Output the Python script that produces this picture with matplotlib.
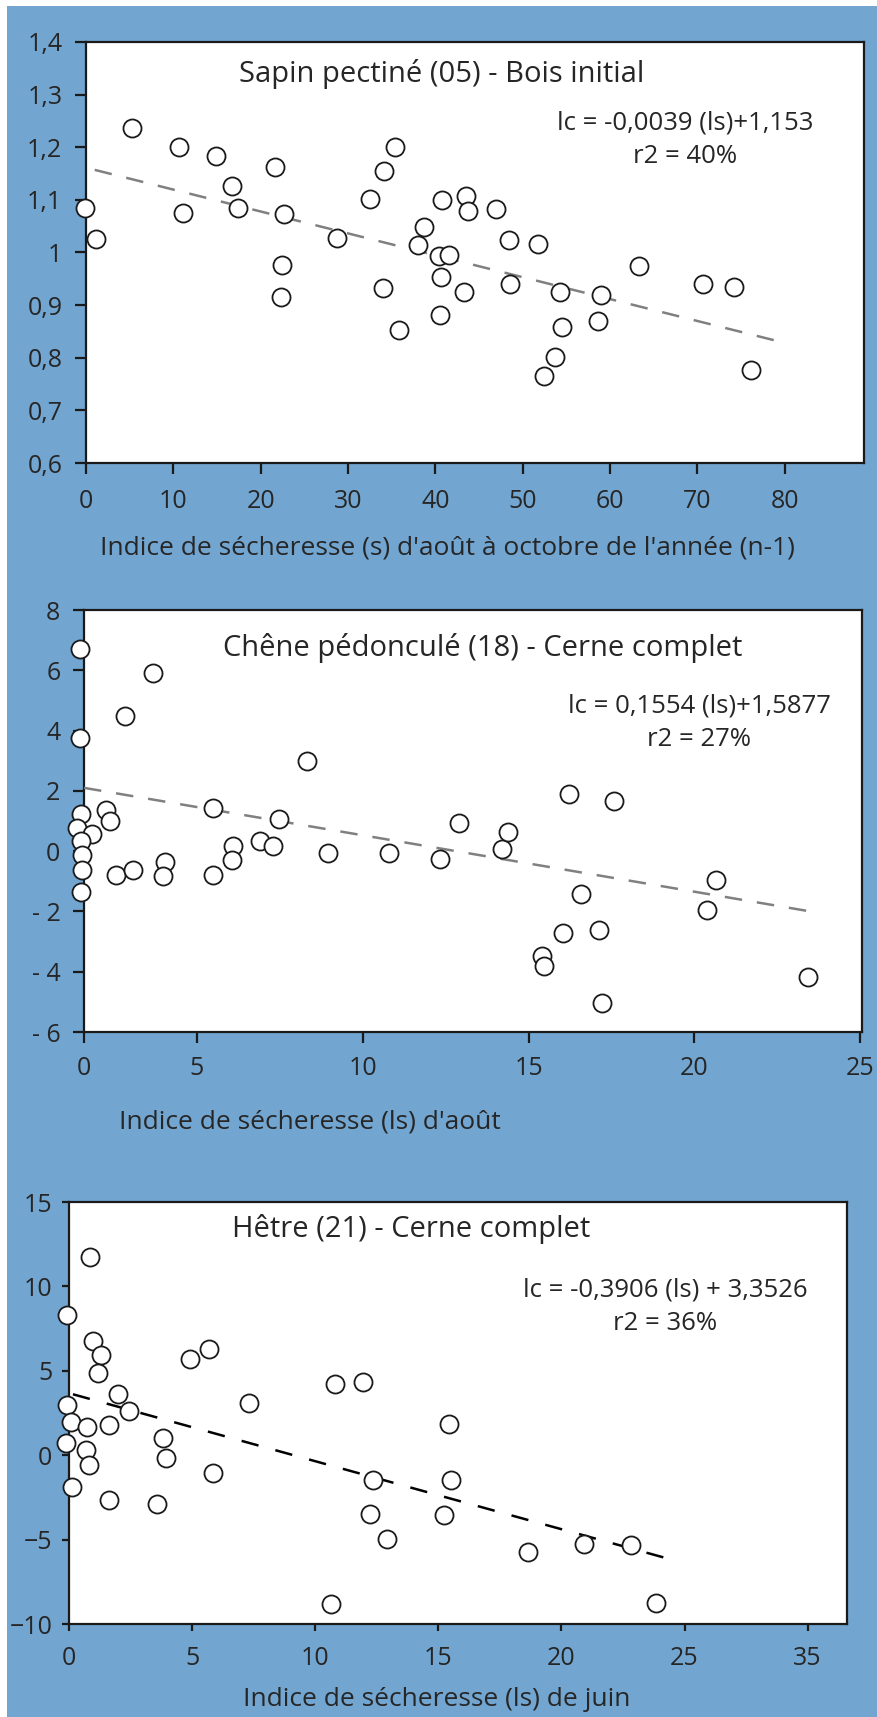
import numpy as np
import matplotlib
matplotlib.use('Agg')
import matplotlib.pyplot as plt
from matplotlib.patches import Rectangle

plt.rcParams['font.family'] = ['Open Sans', 'DejaVu Sans']

BLUE = '#72a5d0'
INK = '#262626'

# --- Sapin pectiné (05) - Bois initial ---
sapin_x = [-0.1, 1.2, 5.25, 10.7, 11.1, 14.9, 16.7, 17.4, 21.65, 22.7, 22.5, 22.3,
           28.8, 32.5, 34.1, 35.4, 34.0, 35.8, 38.0, 38.7, 40.8, 40.4, 41.6, 40.6,
           40.5, 43.5, 43.7, 43.3, 47.0, 48.4, 48.6, 51.8, 52.5, 53.7, 54.3, 54.5,
           58.6, 59.0, 63.3, 70.7, 74.2, 76.2]
sapin_y = [1.084, 1.025, 1.237, 1.200, 1.075, 1.184, 1.126, 1.084, 1.162, 1.073, 0.976, 0.916,
           1.027, 1.102, 1.154, 1.200, 0.933, 0.852, 1.015, 1.049, 1.099, 0.994, 0.996, 0.954,
           0.881, 1.108, 1.079, 0.924, 1.082, 1.024, 0.941, 1.017, 0.765, 0.802, 0.925, 0.858,
           0.870, 0.920, 0.974, 0.940, 0.934, 0.776]
sapin_trend_x = [1.0, 79.6]
sapin_trend_y = [1.157, 0.830]
sapin_xticks = [0, 10, 20, 30, 40, 50, 60, 70, 80]
sapin_yticks = [0.6, 0.7, 0.8, 0.9, 1.0, 1.1, 1.2, 1.3, 1.4]
sapin_yticklabels = ['0,6', '0,7', '0,8', '0,9', '1', '1,1', '1,2', '1,3', '1,4']

# --- Chêne pédonculé (18) - Cerne complet ---
chene_x = [-0.17, -0.17, 3.04, 1.83, 8.32, -0.15, 0.99, 1.16, -0.3, 0.37, -0.15, -0.1,
           -0.1, -0.15, 1.41, 2.18, 3.61, 3.49, 5.49, 5.49, 6.08, 6.06, 6.89, 7.31,
           7.49, 8.94, 10.78, 12.32, 12.91, 14.21, 14.39, 15.40, 15.45, 16.04, 16.21, 16.58,
           17.13, 17.22, 17.58, 20.39, 20.64, 23.42]
chene_y = [6.69, 3.75, 5.91, 4.49, 2.99, 1.23, 1.38, 1.0, 0.78, 0.58, 0.34, -0.12,
           -0.63, -1.35, -0.78, -0.63, -0.35, -0.82, 1.43, -0.79, 0.17, -0.29, 0.35, 0.17,
           1.05, -0.06, -0.06, -0.27, 0.95, 0.08, 0.62, -3.48, -3.82, -2.72, 1.90, -1.42,
           -2.6, -5.03, 1.65, -1.95, -0.95, -4.16]
chene_trend_x = [0.0, 23.6]
chene_trend_y = [2.1, -2.02]
chene_xticks = [0, 5, 10, 15, 20, 25]
chene_yticks = [-6, -4, -2, 0, 2, 4, 6, 8]
chene_yticklabels = ['- 6', '- 4', '- 2', '0', '2', '4', '6', '8']

# --- Hêtre (21) - Cerne complet ---
hetre_x = [0.86, -0.07, 0.97, 1.31, 1.19, 4.91, 5.70, 1.98, 2.43, -0.09, 0.07, 0.72,
           1.62, -0.11, 0.70, 0.83, 0.11, 1.64, 3.58, 3.83, 3.96, 5.83, 7.32, 10.81,
           11.96, 10.65, 12.36, 12.23, 12.91, 15.43, 15.52, 15.23, 18.63, 20.92, 22.84, 23.83]
hetre_y = [11.74, 8.28, 6.79, 5.92, 4.85, 5.67, 6.30, 3.63, 2.59, 2.97, 1.96, 1.67,
           1.79, 0.70, 0.28, -0.61, -1.89, -2.63, -2.92, 1.04, -0.14, -1.05, 3.08, 4.20,
           4.32, -8.84, -1.47, -3.49, -4.95, 1.84, -1.47, -3.53, -5.72, -5.26, -5.32, -8.74]
hetre_trend_x = [0.16, 24.26]
hetre_trend_y = [3.61, -6.1]
hetre_xticks = [0, 5, 10, 15, 20, 25, 30]
hetre_xticklabels = ['0', '5', '10', '15', '20', '25', '35']
hetre_yticks = [-10, -5, 0, 5, 10, 15]

W, H = 878, 1717
fig = plt.figure(figsize=(W / 100, H / 100), dpi=100, facecolor='white')
# blue card with a thin white margin on the top and left
fig.patches.append(Rectangle((7 / W, 0), 1, 1 - 6 / H, transform=fig.transFigure,
                             facecolor=BLUE, edgecolor='none', zorder=-5))


def px_axes(left, top, right, bottom):
    return fig.add_axes([left / W, 1 - bottom / H, (right - left) / W, (bottom - top) / H])


def style(ax, ypad, xpad, length=8):
    ax.set_facecolor('white')
    for sp in ax.spines.values():
        sp.set_linewidth(1.6)
        sp.set_color('#1a1a1a')
    ax.tick_params(axis='both', colors='#1a1a1a', labelcolor=INK, labelsize=18,
                   width=1.6, length=length, direction='out')
    ax.tick_params(axis='y', pad=ypad)
    ax.tick_params(axis='x', pad=xpad)
    ax.tick_params(top=False, right=False)


def scatter(ax, x, y):
    ax.plot(x, y, linestyle='none', marker='o', markersize=13, markerfacecolor='white',
            markeredgecolor='#1a1a1a', markeredgewidth=1.3, clip_on=False, zorder=4)


# Panel 1
ax1 = px_axes(86, 42, 864, 463)
style(ax1, 9, 11)
ax1.plot(sapin_trend_x, sapin_trend_y, color='#808080', lw=1.8, dashes=(7, 6), zorder=3)
scatter(ax1, sapin_x, sapin_y)
ax1.set_xlim(0, 89.1)
ax1.set_ylim(0.6, 1.4)
ax1.set_xticks(sapin_xticks)
ax1.set_yticks(sapin_yticks)
ax1.set_yticklabels(sapin_yticklabels)
ax1.text(0.457, 0.923, 'Sapin pectiné (05) - Bois initial', transform=ax1.transAxes,
         ha='center', va='center', fontsize=21, color=INK)
ax1.text(0.77, 0.808, 'lc = -0,0039 (ls)+1,153', transform=ax1.transAxes,
         ha='center', va='center', fontsize=18.5, color=INK)
ax1.text(0.77, 0.729, 'r2 = 40%', transform=ax1.transAxes,
         ha='center', va='center', fontsize=18.5, color=INK)
ax1.text(0.465, -0.202, "Indice de sécheresse (s) d'août à octobre de l'année (n-1)",
         transform=ax1.transAxes, ha='center', va='center', fontsize=19, color=INK)

# Panel 2 - the first x interval (0-5) is drawn shorter than the others in the original
brk = [-1, 0, 5, 25, 30]
brk_u = [-0.68, 0, 3.4, 23.4, 28.4]


def squeeze(x):
    return np.interp(x, brk, brk_u)


def unsqueeze(u):
    return np.interp(u, brk_u, brk)


ax2 = px_axes(84, 610, 862, 1032)
style(ax2, 9, 9)
ax2.set_xscale('function', functions=(squeeze, unsqueeze))
ax2.plot(chene_trend_x, chene_trend_y, color='#808080', lw=1.8, dashes=(7, 6), zorder=3)
scatter(ax2, chene_x, chene_y)
ax2.set_xlim(0, 25.05)
ax2.set_ylim(-6, 8)
ax2.set_xticks(chene_xticks)
ax2.set_xticklabels([str(t) for t in chene_xticks])
ax2.minorticks_off()
ax2.set_yticks(chene_yticks)
ax2.set_yticklabels(chene_yticklabels)
ax2.text(0.513, 0.909, 'Chêne pédonculé (18) - Cerne complet', transform=ax2.transAxes,
         ha='center', va='center', fontsize=21, color=INK)
ax2.text(0.791, 0.773, 'lc = 0,1554 (ls)+1,5877', transform=ax2.transAxes,
         ha='center', va='center', fontsize=18.5, color=INK)
ax2.text(0.791, 0.694, 'r2 = 27%', transform=ax2.transAxes,
         ha='center', va='center', fontsize=18.5, color=INK)
ax2.text(0.045, -0.213, "Indice de sécheresse (ls) d'août", transform=ax2.transAxes,
         ha='left', va='center', fontsize=19, color=INK)

# Panel 3
ax3 = px_axes(69, 1202, 847, 1624)
style(ax3, 7, 11, length=5)
ax3.plot(hetre_trend_x, hetre_trend_y, color='black', lw=1.8, dashes=(7, 7), zorder=3)
scatter(ax3, hetre_x, hetre_y)
ax3.set_xlim(0, 31.6)
ax3.set_ylim(-10, 15)
ax3.set_xticks(hetre_xticks)
ax3.set_xticklabels(hetre_xticklabels)
ax3.set_yticks(hetre_yticks)
ax3.text(0.44, 0.935, 'Hêtre (21) - Cerne complet', transform=ax3.transAxes,
         ha='center', va='center', fontsize=21, color=INK)
ax3.text(0.766, 0.792, 'lc = -0,3906 (ls) + 3,3526', transform=ax3.transAxes,
         ha='center', va='center', fontsize=18.5, color=INK)
ax3.text(0.766, 0.712, 'r2 = 36%', transform=ax3.transAxes,
         ha='center', va='center', fontsize=18.5, color=INK)
ax3.text(0.472, -0.18, 'Indice de sécheresse (ls) de juin', transform=ax3.transAxes,
         ha='center', va='center', fontsize=19, color=INK)

fig.savefig('out.png', dpi=100, facecolor=fig.get_facecolor())
